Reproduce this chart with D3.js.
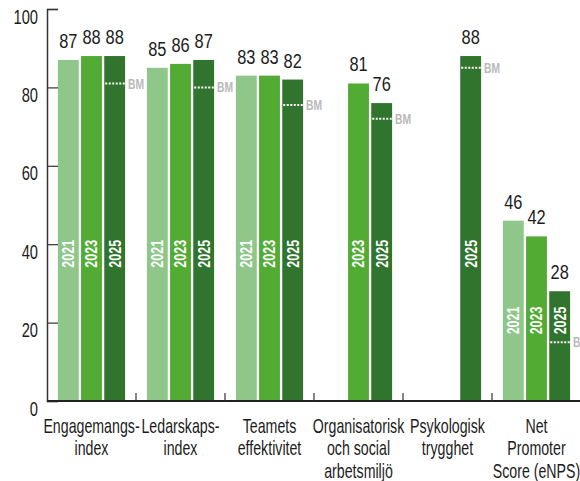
<!DOCTYPE html>
<html>
<head>
<meta charset="utf-8">
<script src="https://cdn.jsdelivr.net/npm/d3@7"></script>
<style>
  html, body { margin: 0; padding: 0; background: #fff; }
  svg { display: block; }
  text { font-family: "Liberation Sans", Arimo, Roboto, sans-serif; }
</style>
</head>
<body>
<svg id="chart" width="580" height="481"></svg>
<script>
// Index categories (line breaks as drawn under the axis)
const categories = [
  ["Engagemangs-", "index"],
  ["Ledarskaps-", "index"],
  ["Teamets", "effektivitet"],
  ["Organisatorisk", "och social", "arbetsmiljö"],
  ["Psykologisk", "trygghet"],
  ["Net", "Promoter", "Score (eNPS)"]
];
const years = ["2021", "2023", "2025"];
const values2021 = [87, 85, 83, null, null, 46];
const values2023 = [88, 86, 83, 81, null, 42];
const values2025 = [88, 87, 82, 76, 88, 28];
const benchmark = [81, 80, 75.5, 72, 85, 15];
const yTicks = [0, 20, 40, 60, 80, 100];

const colors = { "2021": "#8fc689", "2023": "#52ac34", "2025": "#30742d" };
const seriesByYear = { "2021": values2021, "2023": values2023, "2025": values2025 };

// Horizontal squeeze giving the condensed type look
const NARROW = 0.74;

const svg = d3.select("#chart");
const margin = { left: 47, right: -1, top: 9, bottom: 80 };
const W = 580, H = 481;
const y0 = H - margin.bottom; // baseline

const catKeys = categories.map((c, i) => i);
const x0 = d3.scaleBand().domain(catKeys).range([margin.left, W - margin.right]).padding(0);
const x1 = d3.scaleBand().domain(years).range([0, x0.bandwidth()]).paddingInner(0.1).paddingOuter(0.47);
const y = d3.scaleLinear().domain([0, 100]).range([y0, margin.top]);

const ink = "#1c1c1c";
const barX = d => x0(d.cat) + x1(d.year);
const barMid = d => barX(d) + x1.bandwidth() / 2;

// Bars
const rows = [];
categories.forEach((c, i) => {
  years.forEach(yr => {
    const v = seriesByYear[yr][i];
    if (v != null) rows.push({ cat: i, year: yr, value: v });
  });
});

const g = svg.append("g");
g.selectAll("rect.bar").data(rows).join("rect")
  .attr("class", "bar")
  .attr("x", barX)
  .attr("y", d => y(d.value))
  .attr("width", x1.bandwidth())
  .attr("height", d => y(0) - y(d.value))
  .attr("fill", d => colors[d.year]);

// Value labels above the bars
g.selectAll("text.val").data(rows).join("text")
  .attr("class", "val")
  .attr("transform", d => `translate(${barMid(d)},${y(d.value) - 12}) scale(0.78,1)`)
  .attr("text-anchor", "middle")
  .attr("font-size", 21)
  .attr("fill", ink)
  .text(d => d.value);

// Year labels inside the bars, reading upward
const npsIndex = categories.length - 1;
g.selectAll("text.yr").data(rows).join("text")
  .attr("class", "yr")
  .attr("transform", d => {
    const base = d.cat === npsIndex ? y(17) : y(34);
    return `translate(${barMid(d)},${base}) rotate(-90) scale(0.76,1)`;
  })
  .attr("dy", "0.36em")
  .attr("text-anchor", "start")
  .attr("font-size", 16.5)
  .attr("font-weight", "bold")
  .attr("fill", "#fff")
  .text(d => d.year);

// Benchmark markers on the 2025 bars
const bm = benchmark.map((v, i) => ({ cat: i, year: "2025", value: v }));
g.selectAll("line.bm").data(bm).join("line")
  .attr("class", "bm")
  .attr("x1", d => barX(d) + 1)
  .attr("x2", d => barX(d) + x1.bandwidth())
  .attr("y1", d => y(d.value))
  .attr("y2", d => y(d.value))
  .attr("stroke", "#fff")
  .attr("stroke-width", 2)
  .attr("stroke-dasharray", "2,1.5");
g.selectAll("text.bm").data(bm).join("text")
  .attr("class", "bm")
  .attr("transform", d => `translate(${barX(d) + x1.bandwidth() + 3},${y(d.value)}) scale(${NARROW},1)`)
  .attr("dy", "0.36em")
  .attr("font-size", 14)
  .attr("font-weight", "bold")
  .attr("fill", "#b9b9b9")
  .text("BM");

// Y axis with inward ticks
const yAxis = d3.axisLeft(y).tickValues(yTicks).tickSizeInner(-11).tickSizeOuter(-11).tickPadding(9);
const ya = svg.append("g").attr("transform", `translate(${margin.left},0)`).call(yAxis);
ya.select(".domain").attr("stroke", "#333").attr("stroke-width", 1.5);
ya.selectAll(".tick line").attr("stroke", "#333").attr("stroke-width", 1.2);
ya.selectAll(".tick text")
  .attr("x", null)
  .attr("dy", null)
  .attr("transform", `translate(-9,14) scale(0.7,1)`)
  .attr("font-size", 21)
  .attr("font-family", null)
  .attr("fill", ink);

// Baseline and category separators
svg.append("line")
  .attr("x1", margin.left).attr("x2", W)
  .attr("y1", y0).attr("y2", y0)
  .attr("stroke", "#222").attr("stroke-width", 2);
const seps = catKeys.slice(1).map(i => x0(i));
svg.selectAll("line.sep").data(seps).join("line")
  .attr("class", "sep")
  .attr("x1", d => d).attr("x2", d => d)
  .attr("y1", y0).attr("y2", y0 - 8)
  .attr("stroke", "#333").attr("stroke-width", 1.2);

// Category labels
const cl = svg.selectAll("text.cat").data(categories.map((c, i) => ({ lines: c, cat: i }))).join("text")
  .attr("class", "cat")
  .attr("transform", d => `translate(${x0(d.cat) + x0.bandwidth() / 2},0) scale(0.71,1)`)
  .attr("text-anchor", "middle")
  .attr("font-size", 20)
  .attr("fill", ink);
cl.selectAll("tspan").data(d => d.lines).join("tspan")
  .attr("x", 0)
  .attr("y", (d, j) => 433 + j * 22.5)
  .text(d => d);
</script>
</body>
</html>
